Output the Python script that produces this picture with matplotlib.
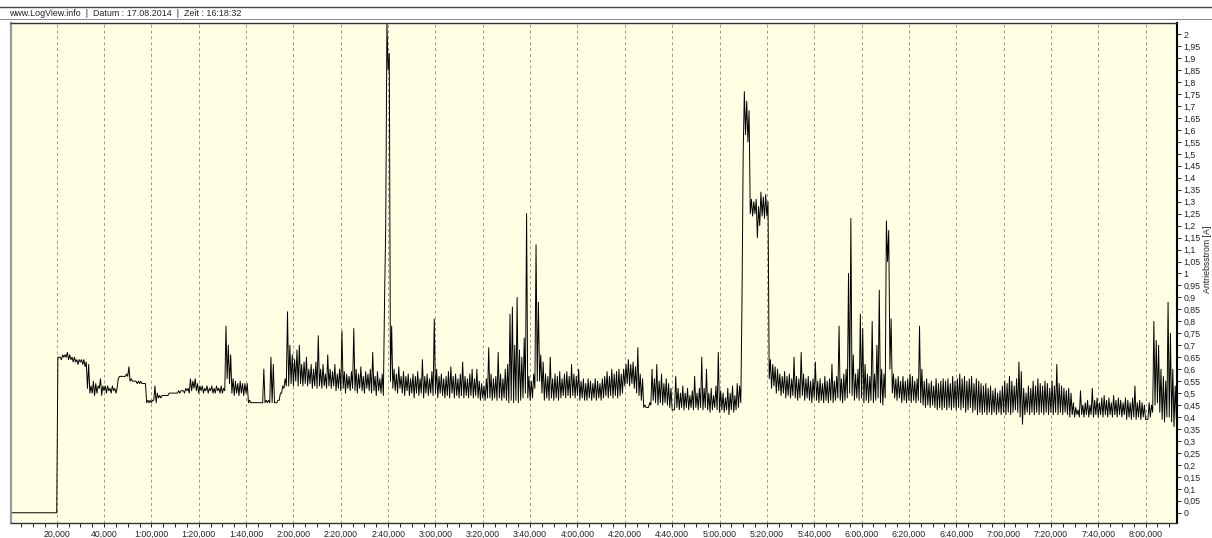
import numpy as np
import matplotlib
matplotlib.use("Agg")
import matplotlib.pyplot as plt
from matplotlib.lines import Line2D
from matplotlib.ticker import MultipleLocator, FuncFormatter

header_text = "www.LogView.info  |  Datum : 17.08.2014  |  Zeit : 16:18:32"
y_label = "Antriebsstrom [A]"

# Antriebsstrom read per minute from the log: lowest and highest value (1/100 A)
current_lo = [
    0, 0, 0, 0, 0, 0, 0, 0, 0, 0,
    0, 0, 0, 0, 0, 0, 0, 0, 0, 0,
    0, 65, 64, 65, 65, 64, 64, 63, 63, 62,
    63, 62, 61, 52, 50, 50, 49, 50, 52, 49,
    51, 50, 51, 50, 51, 50, 56, 57, 57, 57,
    57, 55, 55, 55, 54, 54, 54, 54, 46, 46,
    46, 47, 46, 48, 48, 49, 49, 49, 50, 50,
    50, 50, 50, 51, 50, 51, 50, 51, 52, 51,
    50, 51, 50, 51, 50, 51, 50, 50, 51, 50,
    50, 51, 56, 54, 50, 49, 50, 49, 50, 49,
    50, 46, 46, 46, 46, 46, 46, 46, 46, 46,
    46, 46, 46, 46, 47, 50, 52, 53, 53, 54,
    53, 55, 53, 54, 53, 54, 53, 54, 52, 53,
    52, 53, 52, 53, 52, 53, 52, 53, 51, 52,
    51, 52, 50, 52, 51, 52, 51, 50, 52, 51,
    50, 52, 51, 50, 51, 49, 51, 50, 49, 120,
    185, 55, 52, 51, 50, 52, 50, 49, 51, 49,
    50, 48, 50, 49, 50, 48, 50, 49, 50, 49,
    50, 48, 50, 49, 48, 49, 48, 50, 48, 49,
    48, 49, 48, 49, 48, 49, 48, 49, 48, 47,
    48, 47, 48, 48, 47, 48, 47, 48, 47, 48,
    47, 46, 47, 46, 47, 46, 47, 48, 50, 48,
    47, 48, 52, 55, 55, 50, 47, 48, 47, 48,
    47, 48, 47, 48, 49, 48, 49, 48, 49, 48,
    49, 47, 48, 47, 47, 48, 47, 48, 47, 48,
    47, 48, 49, 48, 49, 48, 49, 48, 49, 50,
    53, 54, 53, 54, 52, 50, 49, 47, 44, 44,
    44, 45, 47, 46, 45, 46, 45, 46, 45, 44,
    43, 43, 44, 43, 44, 43, 44, 43, 44, 43,
    44, 43, 44, 43, 44, 43, 42, 43, 44, 43,
    42, 43, 42, 43, 41, 43, 42, 43, 44, 46,
    150, 158, 155, 125, 124, 125, 115, 120, 124, 123,
    124, 56, 52, 53, 50, 51, 49, 50, 48, 49,
    48, 49, 48, 47, 48, 49, 47, 48, 47, 46,
    48, 47, 46, 47, 46, 47, 46, 47, 46, 47,
    48, 47, 46, 47, 48, 50, 49, 47, 48, 47,
    48, 46, 47, 46, 47, 46, 47, 48, 46, 45,
    48, 105, 60, 50, 48, 47, 48, 46, 47, 46,
    47, 46, 47, 46, 47, 46, 45, 44, 45, 44,
    45, 44, 43, 44, 43, 44, 43, 44, 43, 44,
    43, 44, 43, 44, 42, 43, 44, 42, 43, 41,
    42, 41, 42, 41, 42, 41, 42, 41, 42, 41,
    42, 41, 42, 41, 42, 43, 42, 40, 37, 41,
    42, 41, 42, 41, 42, 41, 42, 41, 42, 41,
    42, 41, 42, 41, 42, 41, 42, 41, 40, 41,
    40, 41, 40, 41, 40, 41, 40, 41, 40, 41,
    40, 41, 40, 41, 40, 41, 40, 41, 40, 41,
    40, 41, 39, 40, 39, 40, 39, 40, 39, 40,
    39, 39, 40, 42, 45, 46, 42, 39, 38, 40,
    40, 38, 36, 39,
]
current_hi = [
    0, 0, 0, 0, 0, 0, 0, 0, 0, 0,
    0, 0, 0, 0, 0, 0, 0, 0, 0, 0,
    65, 65, 66, 66, 67, 66, 65, 65, 64, 64,
    64, 64, 63, 62, 53, 55, 54, 53, 56, 53,
    53, 53, 52, 53, 52, 52, 57, 57, 57, 58,
    61, 56, 55, 55, 55, 55, 54, 54, 47, 47,
    47, 53, 50, 49, 49, 49, 49, 50, 50, 50,
    50, 51, 51, 51, 52, 52, 56, 55, 56, 54,
    53, 53, 52, 53, 52, 53, 52, 53, 52, 53,
    52, 78, 70, 66, 56, 55, 54, 55, 54, 54,
    54, 47, 46, 46, 46, 46, 46, 60, 47, 47,
    65, 62, 46, 47, 50, 53, 56, 84, 70, 66,
    64, 68, 70, 62, 63, 65, 60, 62, 60, 63,
    74, 60, 62, 58, 66, 60, 59, 62, 58, 60,
    76, 59, 58, 57, 59, 77, 60, 58, 61, 57,
    59, 58, 60, 67, 57, 59, 56, 58, 89, 205,
    192, 78, 60, 58, 61, 57, 59, 57, 58, 56,
    58, 57, 59, 56, 64, 57, 58, 56, 59, 81,
    60, 57, 58, 56, 57, 59, 61, 57, 58, 56,
    58, 63, 57, 56, 58, 60, 56, 60, 55, 54,
    53, 56, 69, 58, 56, 57, 67, 58, 56, 60,
    62, 83, 86, 70, 90, 68, 65, 73, 125, 57,
    55, 58, 112, 88, 66, 63, 58, 57, 65, 56,
    58, 57, 59, 56, 58, 59, 57, 62, 58, 57,
    60, 55, 56, 54, 56, 55, 54, 56, 55, 54,
    56, 57, 59, 57, 60, 58, 59, 60, 58, 60,
    62, 64, 62, 63, 61, 69, 58, 56, 45, 44,
    46, 60, 56, 62, 55, 58, 54, 56, 54, 52,
    43, 57, 52, 50, 53, 50, 52, 49, 51, 57,
    50, 52, 65, 52, 60, 50, 52, 49, 53, 67,
    51, 50, 48, 52, 50, 53, 49, 54, 53, 88,
    176, 172, 168, 131, 130, 131, 128, 134, 132, 133,
    130, 64, 62, 61, 60, 58, 57, 59, 57, 58,
    56, 65, 57, 56, 67, 58, 56, 57, 55, 56,
    63, 55, 56, 54, 57, 55, 56, 62, 55, 57,
    78, 56, 58, 60, 100, 123, 66, 58, 60, 83,
    77, 62, 58, 57, 80, 58, 70, 93, 60, 58,
    122, 118, 81, 58, 56, 57, 55, 57, 55, 56,
    58, 57, 55, 56, 78, 60, 55, 56, 54, 55,
    53, 56, 54, 55, 56, 55, 56, 54, 57, 55,
    56, 58, 56, 57, 55, 56, 57, 54, 56, 55,
    54, 53, 54, 52, 53, 51, 52, 50, 51, 53,
    55, 54, 57, 55, 53, 56, 63, 59, 52, 50,
    53, 52, 55, 53, 56, 54, 53, 55, 54, 52,
    55, 53, 62, 54, 53, 52, 51, 52, 50, 46,
    44, 43, 51, 45, 46, 47, 45, 52, 47, 48,
    46, 48, 49, 47, 48, 46, 49, 47, 48, 47,
    46, 48, 47, 46, 48, 53, 46, 47, 46, 45,
    39, 46, 45, 80, 72, 70, 60, 57, 55, 88,
    75, 60, 53, 50,
]

lo = np.array(current_lo) / 100.0
hi = np.array(current_hi) / 100.0
minutes = np.arange(len(lo))

# zig-zag between the low and high reading of every minute
t = np.empty(2 * len(minutes))
t[0::2] = minutes
t[1::2] = minutes + 0.5
amps = np.empty(2 * len(minutes))
amps[0::2] = lo
amps[1::2] = hi

plt.rcParams['font.family'] = ['Liberation Sans', 'DejaVu Sans']

fig = plt.figure(figsize=(12.12, 5.38), dpi=100)
ax = fig.add_axes([11 / 1212, 1 - 523.3 / 538, (1177.3 - 11) / 1212, (523.3 - 22.7) / 538])
ax.set_facecolor('#FFFFE3')

ax.plot(t, amps, color='black', lw=0.7)

ax.set_xlim(0.69, 493.4)
ax.set_ylim(-0.044, 2.048)

def time_label(v, pos):
    m = int(round(v))
    h, mm = divmod(m, 60)
    return f"{h}:{mm:02d},000" if h else f"{mm},000"

def amp_label(v, pos):
    s = f"{v:.2f}".rstrip('0').rstrip('.')
    return s.replace('.', ',')

ax.xaxis.set_major_locator(MultipleLocator(20))
ax.xaxis.set_minor_locator(MultipleLocator(5))
ax.xaxis.set_major_formatter(FuncFormatter(time_label))
ax.yaxis.tick_right()
ax.set_yticks(np.arange(0, 2.001, 0.05))
ax.yaxis.set_major_formatter(FuncFormatter(amp_label))

ax.tick_params(axis='x', which='both', direction='out', length=3, width=0.7,
               labelsize=6.3, pad=2, colors='#222222')
ax.tick_params(axis='y', which='major', direction='out', length=3, width=0.7,
               labelsize=6.3, pad=1.2, colors='#222222')

ax.grid(axis='x', which='major', color='#999999', lw=0.7, linestyle=(0, (3, 3)))

for side in ['top', 'bottom']:
    ax.spines[side].set_color('#333333')
    ax.spines[side].set_linewidth(1.0)
ax.spines['left'].set_color('#999999')
ax.spines['left'].set_linewidth(1.6)
ax.spines['right'].set_color('black')
ax.spines['right'].set_linewidth(1.5)

# header bar
fig.add_artist(Line2D([0, 1], [1 - 6.5 / 538] * 2, color='#444444', lw=1.0))
fig.add_artist(Line2D([0, 1], [1 - 19 / 538] * 2, color='#888888', lw=0.7))
fig.text(9 / 1212, 1 - 13 / 538, header_text, fontsize=6.4, va='center', ha='left', color='#222222')

fig.text(1207 / 1212, 1 - 259 / 538, y_label, rotation=90, fontsize=6.3,
         va='center', ha='center', color='#222222')

fig.savefig('out.png', dpi=100)
